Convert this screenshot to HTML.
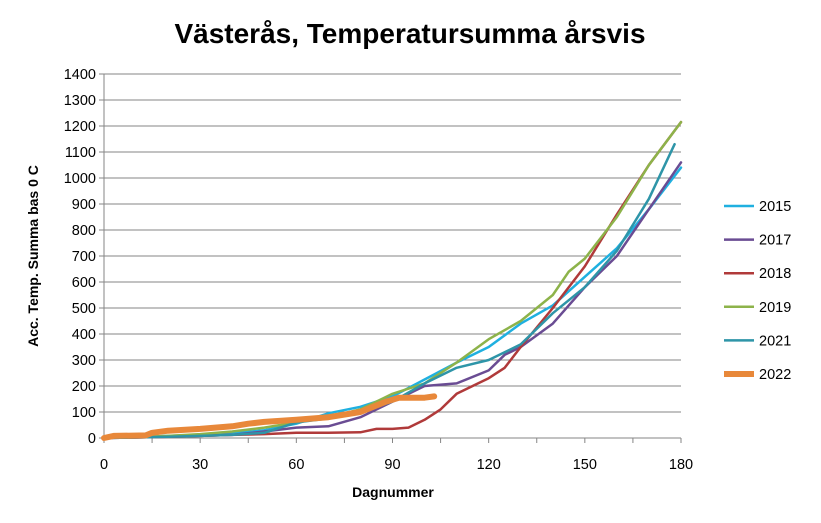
<!DOCTYPE html>
<html><head><meta charset="utf-8"><style>
body{margin:0;background:#fff;}
svg{display:block;font-family:"Liberation Sans",sans-serif;}
</style></head><body>
<svg id="chart" width="821" height="523">
<text x="410" y="43" text-anchor="middle" font-size="28" font-weight="bold">Västerås, Temperatursumma årsvis</text>
<g id="grid"></g>
<g id="axes"></g>
<g id="series"></g>
<g id="legend"></g>
<text x="393" y="497" text-anchor="middle" font-size="14" font-weight="bold">Dagnummer</text>
<text transform="translate(38,256) rotate(-90)" text-anchor="middle" font-size="14" font-weight="bold">Acc. Temp. Summa bas 0 C</text>
</svg>
<script>
const xTicks=[0,30,60,90,120,150,180];
const yTicks=[0,100,200,300,400,500,600,700,800,900,1000,1100,1200,1300,1400];
const years=["2015","2017","2018","2019","2021","2022"];
const colors=["#1fb0e0","#6a4c93","#b03a3a","#8db34a","#2e95a8","#e8883a"];
const days2015=[0,10,20,30,40,50,60,70,80,90,100,110,120,130,140,150,160,170,180];
const vals2015=[0,3,8,12,18,30,55,95,120,160,225,290,350,440,510,620,730,880,1040];
const days2017=[0,10,20,30,40,50,60,70,80,90,100,110,120,125,130,140,150,160,170,180];
const vals2017=[0,2,5,8,12,25,40,45,80,140,200,210,260,320,350,440,580,700,880,1060];
const days2018=[0,10,20,30,40,50,60,70,80,85,90,95,100,105,110,120,125,130,140,150,160,170,180];
const vals2018=[0,2,5,8,12,15,20,20,22,35,35,40,70,110,170,230,270,350,500,660,860,1050,1215];
const days2019=[0,10,20,30,40,50,60,70,80,90,100,110,120,130,140,145,150,160,170,180];
const vals2019=[0,3,8,15,25,40,60,80,110,170,210,290,380,450,550,640,690,850,1050,1215];
const days2021=[0,10,20,30,40,50,60,70,80,90,100,110,120,130,140,150,160,170,178];
const vals2021=[0,2,5,8,12,20,60,75,100,140,210,270,300,360,480,580,720,920,1130];
const days2022=[0,3,13,15,20,30,40,45,50,60,70,80,88,92,100,103];
const vals2022=[0,8,10,20,28,35,45,55,62,70,80,100,140,155,155,160];
const allDays=[days2015,days2017,days2018,days2019,days2021,days2022];
const allVals=[vals2015,vals2017,vals2018,vals2019,vals2021,vals2022];
const X0=104,X1=681,Y0=438,Y1=74;
const xs=d=>X0+(X1-X0)*d/180;
const ys=v=>Y0-(Y0-Y1)*v/1400;
const NS="http://www.w3.org/2000/svg";
function mk(tag,attrs,parent,text){const e=document.createElementNS(NS,tag);for(const k in attrs)e.setAttribute(k,attrs[k]);if(text!==undefined)e.textContent=text;parent.appendChild(e);return e;}
const grid=document.getElementById('grid'),axes=document.getElementById('axes'),ser=document.getElementById('series'),leg=document.getElementById('legend');
yTicks.forEach(t=>{
  if(t>0){const l=mk('line',{x1:X0,x2:X1,y1:ys(t),y2:ys(t),stroke:'#868686','stroke-width':1},grid);
  
  }
  const tx=mk('text',{x:X0-8,y:ys(t)+5,'text-anchor':'end','font-size':14.5},axes,String(t));
  
  
  const tk=mk('line',{x1:X0-5,x2:X0,y1:ys(t),y2:ys(t),stroke:'#868686'},axes);
  
  
});
xTicks.forEach(t=>{
  const tx=mk('text',{x:xs(t),y:Y0+31,'text-anchor':'middle','font-size':14.5},axes,String(t));
  
  
});
for(let d=0;d<=180;d+=15){
  const tk=mk('line',{x1:xs(d),x2:xs(d),y1:Y0,y2:Y0+5,stroke:'#868686'},axes);
  
  
}
const ya=mk('line',{x1:X0,x2:X0,y1:Y1,y2:Y0,stroke:'#868686'},axes);


const xa=mk('line',{x1:X0,x2:X1,y1:Y0,y2:Y0,stroke:'#868686'},axes);


years.forEach((y,i)=>{
  const pts=allDays[i].map((d,j)=>xs(d).toFixed(1)+','+ys(allVals[i][j]).toFixed(1)).join(' ');
  const w=y==="2022"?6:2.5;
  const p=mk('polyline',{points:pts,fill:'none',stroke:colors[i],'stroke-width':w,'stroke-linejoin':'round','stroke-linecap':'round'},ser);
  
  
  const ly=206+i*33.6;
  const g=mk('g',{},leg);
  
  
  mk('line',{x1:724,x2:754,y1:ly,y2:ly,stroke:colors[i],'stroke-width':w},g);
  mk('text',{x:759,y:ly+5,'font-size':14.5},g,y);
});
</script>
</body></html>
